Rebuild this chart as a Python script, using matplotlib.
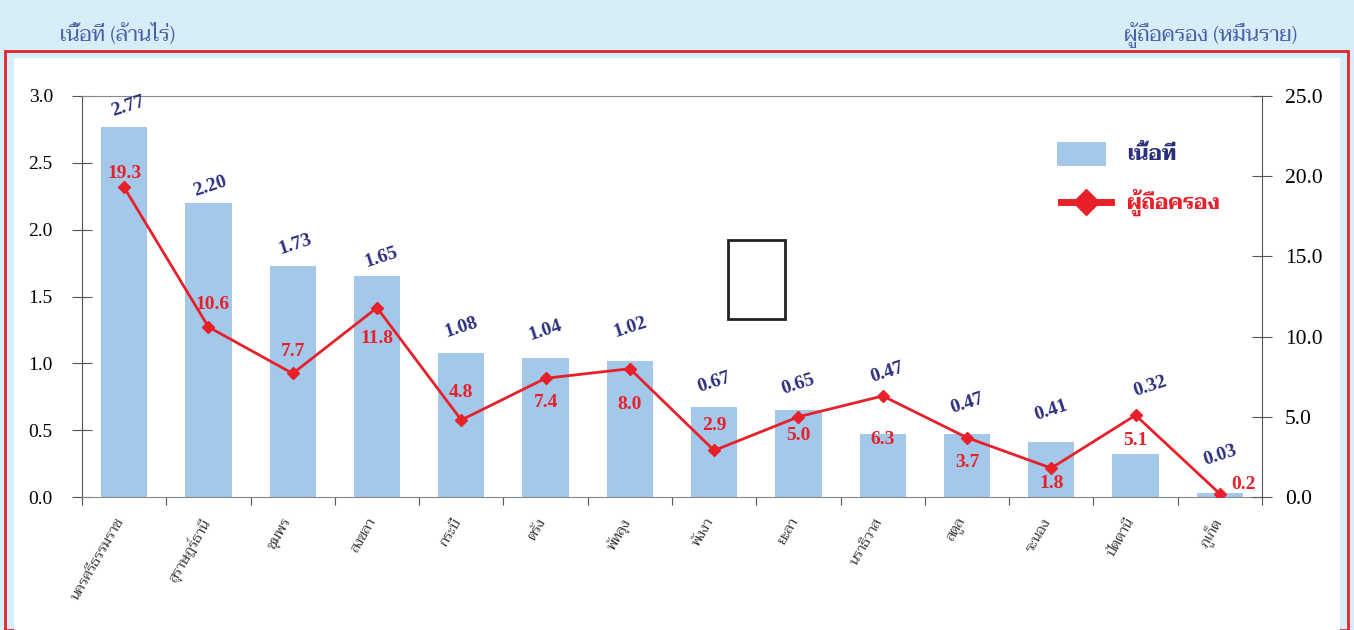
import matplotlib
matplotlib.use("Agg")
import matplotlib.pyplot as plt
import matplotlib.transforms as mtransforms
import numpy as np
from matplotlib.patches import Rectangle
from matplotlib.lines import Line2D

## DATA
provinces = ['นครศรีธรรมราช', 'สุราษฎร์ธานี', 'ชุมพร', 'สงขลา', 'กระบี่', 'ตรัง', 'พัทลุง',
             'พังงา', 'ยะลา', 'นราธิวาส', 'สตูล', 'ระนอง', 'ปัตตานี', 'ภูเก็ต']
area = [2.77, 2.20, 1.73, 1.65, 1.08, 1.04, 1.02, 0.67, 0.65, 0.47, 0.47, 0.41, 0.32, 0.03]
holders = [19.3, 10.6, 7.7, 11.8, 4.8, 7.4, 8.0, 2.9, 5.0, 6.3, 3.7, 1.8, 5.1, 0.2]
left_ticks = [0.0, 0.5, 1.0, 1.5, 2.0, 2.5, 3.0]
right_ticks = [0.0, 5.0, 10.0, 15.0, 20.0, 25.0]
#

BAR_C = '#a3c8ea'
RED = '#e8202a'
NAVY = '#2b2f7f'
TITLE_C = '#4a5ea8'
serif = ['Liberation Serif', 'DejaVu Serif']
thai = ['Taviraj', 'Noto Serif Thai', 'FreeSerif', 'DejaVu Sans']

fig = plt.figure(figsize=(13.54, 6.30), dpi=100)
fig.patch.set_facecolor('#d6eef7')
W, H = 1354, 630
fig.add_artist(Rectangle((5 / W, 0), 1343 / W, (H - 51) / H, transform=fig.transFigure,
                         facecolor='none', edgecolor=RED, lw=2, zorder=0))
fig.add_artist(Rectangle((14 / W, 0), 1326 / W, (H - 58) / H, transform=fig.transFigure,
                         facecolor='white', edgecolor='none', zorder=0))

## AXIS TITLES
fig.text(60 / W, 1 - 35 / H, 'เนื้อที่ (ล้านไร่)', family=thai,
         fontsize=15, color=TITLE_C, va='center', ha='left')
fig.text(1297 / W, 1 - 35 / H, 'ผู้ถือครอง (หมื่นราย)', family=thai,
         fontsize=15, color=TITLE_C, va='center', ha='right')

## BARS (LEFT AXIS)
ax = fig.add_axes([82 / W, 1 - 497 / H, 1180 / W, 401 / H])
ax.set_facecolor('none')
x = np.arange(len(provinces))
ax.bar(x, area, width=0.55, color=BAR_C, zorder=2)
ax.set_xlim(-0.5, len(provinces) - 0.5)
ax.set_ylim(0, 3.0)
ax.set_yticks(left_ticks)
ax.set_yticklabels(['%.1f' % v for v in left_ticks], family=serif, fontsize=14)
ax.set_xticks(np.arange(len(provinces) + 1) - 0.5)
ax.set_xticklabels([])
ax.tick_params(axis='x', which='major', length=6, color='#555555')
ax.tick_params(axis='y', direction='inout', length=14.5, color='#555555', pad=13.75)
for s in ['top', 'bottom']:
    ax.spines[s].set_color('#888888')
ax.spines['left'].set_color('#555555')
ax.spines['right'].set_visible(False)

# province names under the bars
name_tr = ax.get_xaxis_transform() + mtransforms.ScaledTranslation(-9 / 100, -19 / 100, fig.dpi_scale_trans)
for i, name in enumerate(provinces):
    ax.text(i, 0, name, transform=name_tr, rotation=60, ha='right', va='top',
            rotation_mode='anchor', family=thai, fontsize=10, color='#333333')

# bar value labels, offsets in pixels from the bar top
bar_offs = [(4, 20), (2, 17), (3, 21), (4, 19), (0, 25), (0, 28), (0, 33),
            (0, 25), (0, 26), (4, 62), (0, 31), (0, 32), (15, 68), (0, 38)]
for i, v in enumerate(area):
    ax.annotate('%.2f' % v, (i, v), xytext=bar_offs[i], textcoords='offset pixels',
                ha='center', va='center', rotation=18, family=serif, fontweight='bold',
                fontsize=14, color=NAVY, zorder=5)

## LINE (RIGHT AXIS)
ax2 = ax.twinx()
ax2.plot(x, holders, color=RED, lw=2, marker='D', markersize=6, zorder=4)
ax2.set_ylim(0, 25)
ax2.set_yticks(right_ticks)
ax2.set_yticklabels(['%.1f' % v for v in right_ticks], family=serif, fontsize=15.5)
ax2.tick_params(axis='y', direction='inout', length=14.5, color='#555555', pad=9.4)
ax2.spines['right'].set_color('#555555')
for s in ['top', 'bottom', 'left']:
    ax2.spines[s].set_visible(False)

# label offsets in pixels (dx, dy)
offs = [(0, 14), (4, 22), (0, 22), (0, -31), (0, 28), (0, -24), (0, -36), (0, 25),
        (0, -19), (0, -44), (0, -25), (0, -15), (0, -25), (24, 9)]
for i, v in enumerate(holders):
    ax2.annotate('%.1f' % v, (i, v), xytext=offs[i], textcoords='offset pixels',
                 ha='center', va='center', family=serif, fontweight='bold',
                 fontsize=14, color=RED, zorder=6)

## LEGEND
fig.add_artist(Rectangle((1057 / W, 1 - 166 / H), 49 / W, 24 / H, transform=fig.transFigure,
                         facecolor=BAR_C, edgecolor='none'))
fig.text(1127 / W, 1 - 154 / H, 'เนื้อที่', family=thai, fontsize=15,
         fontweight='bold', color=NAVY, va='center')
fig.add_artist(Line2D([1061 / W, 1111 / W], [1 - 202 / H, 1 - 202 / H], transform=fig.transFigure,
                      color=RED, lw=5))
fig.add_artist(Line2D([1086 / W], [1 - 202 / H], transform=fig.transFigure,
                      color=RED, marker='D', markersize=13, lw=0))
fig.text(1127 / W, 1 - 202 / H, 'ผู้ถือครอง', family=thai, fontsize=15,
         fontweight='bold', color=RED, va='center')

## STRAY BOX
fig.add_artist(Rectangle((728 / W, 1 - 319 / H), 57 / W, 79 / H, transform=fig.transFigure,
                         facecolor='white', edgecolor='#222222', lw=2, zorder=3))

plt.savefig('out.png', dpi=100, facecolor=fig.get_facecolor())
